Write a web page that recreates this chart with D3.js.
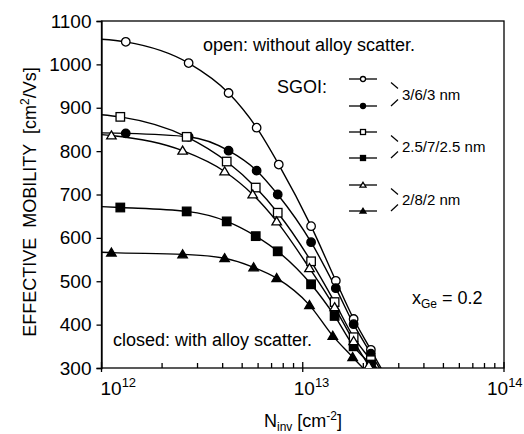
<!DOCTYPE html>
<html>
<head>
<meta charset="utf-8">
<script src="https://cdn.jsdelivr.net/npm/d3@7"></script>
<style>
  html, body { margin: 0; padding: 0; background: #fff; }
  svg { display: block; font-family: "Liberation Sans", Arial, Helvetica, sans-serif; }
</style>
</head>
<body>
<svg id="chart" width="524" height="434"></svg>
<script>
// Inversion charge N_inv in units of 1e12 cm^-2, effective mobility in cm^2/Vs.
// SGOI 3/6/3 nm
const nOpen363   = [1.32, 2.71, 4.28, 5.90, 7.60, 11.0, 14.6, 17.9, 21.8];
const muOpen363  = [1052, 1003, 934, 854, 769, 627, 501, 413, 342];
const nClosed363  = [1.32, 2.71, 4.28, 5.90, 7.51, 11.0, 14.6, 17.9, 21.8];
const muClosed363 = [841, 833, 801, 755, 700, 590, 484, 401, 333];
// SGOI 2.5/7/2.5 nm
const nOpen25   = [1.24, 2.65, 4.19, 5.84, 7.51, 11.0, 14.4, 17.9, 21.8];
const muOpen25  = [879, 833, 776, 716, 658, 546, 452, 371, 318];
const nClosed25  = [1.24, 2.65, 4.19, 5.84, 7.51, 11.0, 14.4, 17.9, 21.8];
const muClosed25 = [670, 661, 638, 604, 569, 493, 420, 350, 308];
// SGOI 2/8/2 nm
const nOpen282   = [1.12, 2.53, 4.09, 5.64, 7.42, 10.8, 14.4, 17.9, 21.3];
const muOpen282  = [836, 801, 753, 700, 638, 530, 440, 362, 305];
const nClosed282  = [1.12, 2.53, 4.09, 5.70, 7.42, 10.8, 14.1, 17.7];
const muClosed282 = [566, 562, 553, 532, 507, 445, 374, 325];

// Fitted curves: value where each curve meets the left axis (N = 1e12)
// and where it runs out below the frame (N = 2.6e13).
const curveN = [1.0, 26];
const curveStart = [1058, 842, 884, 672, 838, 567];
const curveEnd   = [278, 273, 270, 270, 240, 244];

const groupLabels = ["3/6/3 nm", "2.5/7/2.5 nm", "2/8/2 nm"];
const yTicks = [300, 400, 500, 600, 700, 800, 900, 1000, 1100];
const xDecades = [12, 13, 14];

const series = [
  { n: nOpen363,   mu: muOpen363,   shape: "circle",   filled: false },
  { n: nClosed363, mu: muClosed363, shape: "circle",   filled: true  },
  { n: nOpen25,    mu: muOpen25,    shape: "square",   filled: false },
  { n: nClosed25,  mu: muClosed25,  shape: "square",   filled: true  },
  { n: nOpen282,   mu: muOpen282,   shape: "triangle", filled: false },
  { n: nClosed282, mu: muClosed282, shape: "triangle", filled: true  }
].map((s, i) => ({
  ...s,
  points: s.n.map((v, j) => ({ n: v, mu: s.mu[j] })),
  curve: [{ n: curveN[0], mu: curveStart[i] }]
    .concat(s.n.map((v, j) => ({ n: v, mu: s.mu[j] })))
    .concat([{ n: curveN[1], mu: curveEnd[i] }])
}));

const svg = d3.select("#chart");
const plot = { left: 101.5, right: 504, top: 21, bottom: 368 };

const x = d3.scaleLog().domain([1, 100]).range([plot.left, plot.right]);
const y = d3.scaleLinear().domain([300, 1100]).range([plot.bottom, plot.top]);

svg.append("defs").append("clipPath").attr("id", "plotClip")
  .append("rect")
  .attr("x", plot.left).attr("y", plot.top)
  .attr("width", plot.right - plot.left).attr("height", plot.bottom - plot.top);

// Frame
svg.append("rect")
  .attr("x", plot.left).attr("y", plot.top)
  .attr("width", plot.right - plot.left).attr("height", plot.bottom - plot.top)
  .attr("fill", "none").attr("stroke", "#000").attr("stroke-width", 1.3);

// Y axis
const yAxis = svg.append("g")
  .attr("transform", `translate(${plot.left},0)`)
  .call(d3.axisLeft(y).tickValues(yTicks).tickSize(5).tickPadding(5).tickFormat(d3.format("d")));
yAxis.select(".domain").attr("stroke-width", 1.3);
yAxis.selectAll(".tick line").attr("stroke-width", 1.3);
yAxis.selectAll(".tick text")
  .attr("font-family", "Liberation Sans, Arial, sans-serif")
  .attr("font-size", 19).attr("fill", "#000");

// X axis: minor ticks point into the frame, decades cross the axis
const xg = svg.append("g").attr("class", "x-axis");
const xTickVals = x.ticks();
xg.selectAll("line.tick")
  .data(xTickVals)
  .join("line")
  .attr("x1", d => x(d)).attr("x2", d => x(d))
  .attr("y1", d => plot.bottom - (Number.isInteger(Math.log10(d)) ? 6 : 5))
  .attr("y2", d => plot.bottom + (Number.isInteger(Math.log10(d)) ? 4 : 0))
  .attr("stroke", "#000").attr("stroke-width", 1.3);

// Decade labels sit slightly left of their ticks, drifting more toward the right edge
const decadeShift = [-1, -9, -17];
const xLabels = xg.selectAll("text.decade")
  .data(xDecades)
  .join("text")
  .attr("class", "decade")
  .attr("x", (d, i) => x(Math.pow(10, d - 12)) + decadeShift[i])
  .attr("y", 395)
  .attr("text-anchor", "start")
  .attr("font-size", 19);
xLabels.append("tspan").text("10");
xLabels.append("tspan").attr("dy", -8).attr("font-size", 13).text(d => d);

// Axis titles
const yTitle = svg.append("text")
  .attr("transform", "translate(36,202) rotate(-90)")
  .attr("text-anchor", "middle")
  .attr("font-size", 18)
  .style("white-space", "pre");
yTitle.append("tspan").text("EFFECTIVE  MOBILITY  [cm");
yTitle.append("tspan").attr("dy", -7).attr("font-size", 12).text("2");
yTitle.append("tspan").attr("dy", 7).text("/Vs]");

const xTitle = svg.append("text")
  .attr("x", 303).attr("y", 427)
  .attr("text-anchor", "middle")
  .attr("font-size", 18);
xTitle.append("tspan").text("N");
xTitle.append("tspan").attr("dy", 4).attr("font-size", 12).text("inv");
xTitle.append("tspan").attr("dy", -4).text(" [cm");
xTitle.append("tspan").attr("dy", -7).attr("font-size", 12).text("-2");
xTitle.append("tspan").attr("dy", 7).text("]");

// Curves
const line = d3.line()
  .x(d => x(d.n))
  .y(d => y(d.mu))
  .curve(d3.curveMonotoneX);

svg.append("g").attr("clip-path", "url(#plotClip)")
  .selectAll("path")
  .data(series)
  .join("path")
  .attr("d", s => line(s.curve))
  .attr("fill", "none")
  .attr("stroke", "#000")
  .attr("stroke-width", 1.4);

// Marker drawing
function drawMarker(g, shape, filled, size) {
  const fill = filled ? "#000" : "#fff";
  if (shape === "circle") {
    g.append("circle").attr("r", size / 2)
      .attr("fill", fill).attr("stroke", "#000").attr("stroke-width", 1.3);
  } else if (shape === "square") {
    g.append("rect")
      .attr("x", -size / 2).attr("y", -size / 2)
      .attr("width", size).attr("height", size)
      .attr("fill", fill).attr("stroke", "#000").attr("stroke-width", 1.3);
  } else {
    const h = size * 0.9;
    g.append("path")
      .attr("d", `M0,${-h * 0.6}L${size / 2 + 0.5},${h * 0.45}L${-size / 2 - 0.5},${h * 0.45}Z`)
      .attr("fill", fill).attr("stroke", "#000").attr("stroke-width", 1.3);
  }
}

const markerLayer = svg.append("g").attr("clip-path", "url(#plotClip)");
series.forEach(s => {
  markerLayer.append("g")
    .selectAll("g")
    .data(s.points)
    .join("g")
    .attr("transform", d => `translate(${x(d.n)},${y(d.mu)})`)
    .each(function () { drawMarker(d3.select(this), s.shape, s.filled, 8.5); });
});

// Annotations
svg.append("text").attr("x", 203).attr("y", 51).attr("font-size", 18)
  .text("open: without alloy scatter.");
svg.append("text").attr("x", 113).attr("y", 346).attr("font-size", 18)
  .text("closed: with alloy scatter.");
svg.append("text").attr("x", 277).attr("y", 93).attr("font-size", 18)
  .text("SGOI:");

const xge = svg.append("text").attr("x", 412).attr("y", 304).attr("font-size", 18);
xge.append("tspan").text("x");
xge.append("tspan").attr("dy", 4).attr("font-size", 12).text("Ge");
xge.append("tspan").attr("dy", -4).text(" = 0.2");

// Legend
const legendRows = [79, 106, 132, 158, 185, 211];
const legend = svg.append("g");
series.forEach((s, i) => {
  const ry = legendRows[i];
  legend.append("line")
    .attr("x1", 349).attr("x2", 377).attr("y1", ry).attr("y2", ry)
    .attr("stroke", "#000").attr("stroke-width", 1.3);
  const mg = legend.append("g").attr("transform", `translate(363,${ry})`);
  drawMarker(mg, s.shape, s.filled, 5);
});
groupLabels.forEach((label, k) => {
  const y1 = legendRows[2 * k], y2 = legendRows[2 * k + 1];
  legend.append("line")
    .attr("x1", 391).attr("y1", y1 + 3.5).attr("x2", 398).attr("y2", y1 + 9.5)
    .attr("stroke", "#000").attr("stroke-width", 1.2);
  legend.append("line")
    .attr("x1", 391).attr("y1", y2).attr("x2", 398).attr("y2", y2 - 6.5)
    .attr("stroke", "#000").attr("stroke-width", 1.2);
  legend.append("text")
    .attr("x", 402).attr("y", (y1 + y2) / 2 + 7)
    .attr("font-size", 15)
    .text(label);
});
</script>
</body>
</html>
